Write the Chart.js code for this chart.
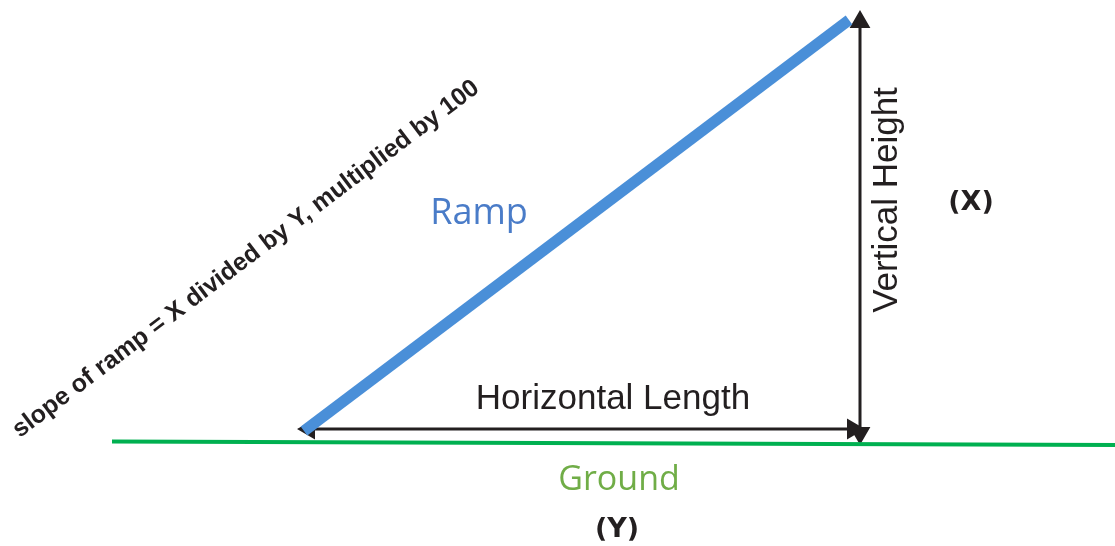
<!DOCTYPE html>
<html>
<head>
<meta charset="utf-8">
<script src="https://cdn.jsdelivr.net/npm/chart.js"></script>
<style>
  html,body{margin:0;padding:0;background:#fff;}
  #wrap{width:1115px;height:546px;position:relative;}
</style>
</head>
<body>
<div id="wrap"><canvas id="c"></canvas></div>
<script>
// diagram coordinates (x to the right, y downward, in picture units)
const groundX = [112, 1115];
const groundY = [441.5, 445];
const rampX = [304, 849];
const rampY = [431, 20];
const heightX = [860, 860];
const heightY = [22, 433];
const lengthX = [309, 853];
const lengthY = [429, 429];

// labels: text, x, y, angle, font, colour
const labels = [
  ['Ramp', 479, 214, 0, '36px "Open Sans"', '#4a7cc8'],
  ['Horizontal Length', 613, 399, 0, '35px "Liberation Sans"', '#231f20'],
  ['Vertical Height', 887, 200, -90, '35px "Liberation Sans"', '#231f20'],
  ['(X)', 971, 203, 0, 'bold 27px "DejaVu Sans"', '#231f20'],
  ['Ground', 619, 480, 0, '34px "Open Sans"', '#70ad47'],
  ['(Y)', 617, 530, 0, 'bold 27px "DejaVu Sans"', '#231f20'],
  ['slope of ramp = X divided by Y, multiplied by 100', 246, 259, -37, 'bold 25px "Liberation Sans"', '#231f20']
];

const pts = (xs, ys) => xs.map((x, i) => ({x, y: ys[i]}));

const textPlugin = {
  id: 'texts',
  afterDatasetsDraw(chart){
    const ctx = chart.ctx, sx = chart.scales.x, sy = chart.scales.y;
    labels.forEach(([t, x, y, a, f, c])=>{
      ctx.save();
      ctx.translate(sx.getPixelForValue(x), sy.getPixelForValue(y));
      ctx.rotate(a * Math.PI / 180);
      ctx.font = f; ctx.fillStyle = c;
      ctx.textAlign = 'center'; ctx.textBaseline = 'middle';
      ctx.fillText(t, 0, 0);
      ctx.restore();
    });
  }
};

new Chart(document.getElementById('c'), {
  type: 'scatter',
  data: {
    datasets: [
      {data: pts(groundX, groundY), showLine: true, borderColor: '#00b050', borderWidth: 4, pointRadius: 0},
      {data: pts(rampX, rampY), showLine: true, borderColor: '#4a8fd8', borderWidth: 11, pointRadius: 0, borderCapStyle: 'butt'},
      {data: pts(heightX, heightY), showLine: true, borderColor: '#231f20', borderWidth: 3,
        pointStyle: 'triangle', pointRadius: 9, pointRotation: [0, 180], backgroundColor: '#231f20', pointBorderColor: '#231f20'},
      {data: pts(lengthX, lengthY), showLine: true, borderColor: '#231f20', borderWidth: 3,
        pointStyle: 'triangle', pointRadius: 9, pointRotation: [270, 90], backgroundColor: '#231f20', pointBorderColor: '#231f20'}
    ]
  },
  options: {
    responsive: true, maintainAspectRatio: false, animation: false,
    layout: {padding: 0, autoPadding: false},
    clip: false,
    plugins: {legend: {display: false}, tooltip: {enabled: false}},
    scales: {
      x: {type: 'linear', min: 0, max: 1115, display: false},
      y: {type: 'linear', min: 0, max: 546, reverse: true, display: false}
    }
  },
  plugins: [textPlugin]
});
</script>
</body>
</html>
